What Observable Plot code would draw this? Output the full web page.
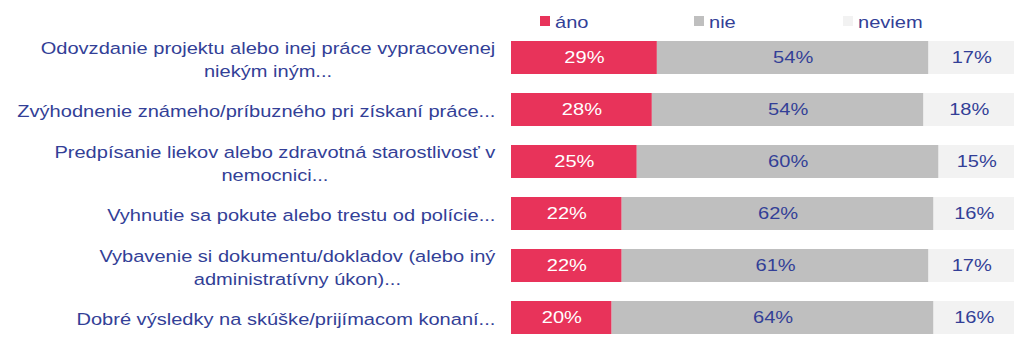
<!DOCTYPE html>
<html>
<head>
<meta charset="utf-8">
<script src="https://cdn.jsdelivr.net/npm/d3@7"></script>
<script src="https://cdn.jsdelivr.net/npm/@observablehq/plot@0.6"></script>
<style>
  html, body { margin: 0; padding: 0; background: #fff; }
  body { width: 1024px; height: 359px; overflow: hidden; font-family: "Liberation Sans", Arial, sans-serif; }
  #legend { position: relative; height: 30px; font-size: 17px; color: #333F97; }
  #legend .sw { position: absolute; top: 16px; width: 10px; height: 10px; }
  #legend .tx { position: absolute; top: 12.5px; line-height: 19px; white-space: nowrap; transform: scaleX(1.18); transform-origin: 0 0; }
</style>
</head>
<body>
<div id="legend"></div>
<div id="chart"></div>
<script>
const categories = [
  "Odovzdanie projektu alebo inej práce vypracovenej\nniekým iným...",
  "Zvýhodnenie známeho/príbuzného pri získaní práce...",
  "Predpísanie liekov alebo zdravotná starostlivosť v\nnemocnici...",
  "Vyhnutie sa pokute alebo trestu od polície...",
  "Vybavenie si dokumentu/dokladov (alebo iný\nadministratívny úkon)...",
  "Dobré výsledky na skúške/prijímacom konaní..."
];
const seriesNames = ["áno", "nie", "neviem"];
const ano    = [29, 28, 25, 22, 22, 20];
const nie    = [54, 54, 60, 62, 61, 64];
const neviem = [17, 18, 15, 16, 17, 16];
const seriesColors = ["#E8335A", "#BFBFBF", "#F2F2F2"];
const labelColors = ["#FFFFFF", "#333F97", "#333F97"];
const textColor = "#333F97";
const legendX = [540, 694, 843];

const valuesBySeries = [ano, nie, neviem];
const data = [];
categories.forEach((c, i) => {
  seriesNames.forEach((s, j) => {
    data.push({category: c, series: s, value: valuesBySeries[j][i]});
  });
});

// legend
const legend = document.getElementById("legend");
seriesNames.forEach((s, j) => {
  const sw = document.createElement("div");
  sw.className = "sw";
  sw.style.left = legendX[j] + "px";
  sw.style.background = seriesColors[j];
  const tx = document.createElement("div");
  tx.className = "tx";
  tx.style.left = (legendX[j] + 15) + "px";
  tx.textContent = s;
  legend.appendChild(sw); legend.appendChild(tx);
});

// horizontal stretch of the text glyphs, as in the reference
const fontSize = 17;
const sx = 1.18;
const ctx = document.createElement("canvas").getContext("2d");
ctx.font = `${fontSize}px "Liberation Sans", Arial, sans-serif`;
const blockWidth = c => sx * Math.max(...c.split("\n").map(l => ctx.measureText(l).width));

const labelMarks = categories.map(c =>
  Plot.text([c], {
    y: d => d,
    frameAnchor: "left",
    textAnchor: "middle",
    dx: -16 - blockWidth(c) / 2,
    fill: textColor,
    fontSize: fontSize,
    lineHeight: 1.35
  })
);

const chart = Plot.plot({
  width: 1024,
  height: 329,
  marginLeft: 511,
  marginRight: 10,
  marginTop: 2.7,
  marginBottom: 16.7,
  style: {fontFamily: '"Liberation Sans", Arial, sans-serif', background: "transparent"},
  x: {domain: [0, 100], axis: null},
  y: {domain: categories, paddingInner: 0.358, paddingOuter: 0.1, axis: null},
  color: {domain: seriesNames, range: seriesColors},
  marks: [
    Plot.barX(data, Plot.stackX({
      x: "value", y: "category", fill: "series", order: seriesNames
    })),
    Plot.text(data, Plot.stackX({
      x: "value", y: "category", z: "series", order: seriesNames,
      text: d => d.value + "%",
      fill: d => labelColors[seriesNames.indexOf(d.series)],
      fontSize: 17
    })),
    ...labelMarks
  ]
});
chart.querySelectorAll('g[aria-label="text"] text').forEach(t => {
  const tr = t.getAttribute("transform");
  if (tr) t.setAttribute("transform", tr + ` scale(${sx},1)`);
});
document.getElementById("chart").appendChild(chart);
</script>
</body>
</html>
